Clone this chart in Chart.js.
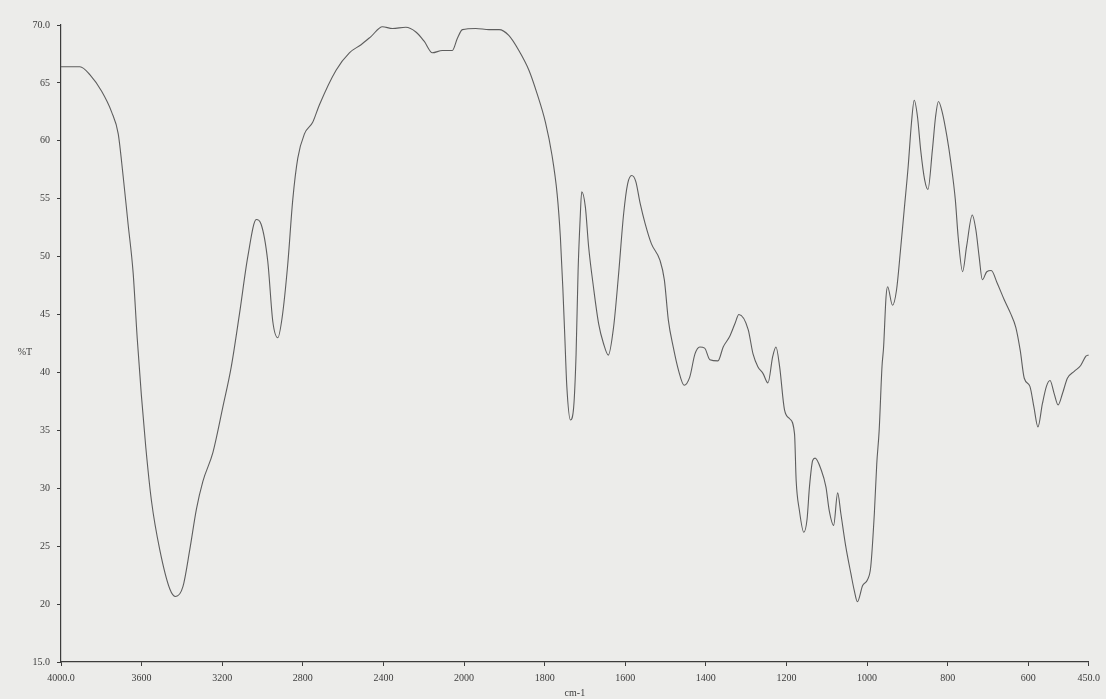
<!DOCTYPE html>
<html>
<head>
<meta charset="utf-8">
<style>
  html, body { margin: 0; padding: 0; background: #ececea; }
  #wrap { width: 1106px; height: 699px; position: relative; }
</style>
<script src="https://cdn.jsdelivr.net/npm/chart.js@4.4.1/dist/chart.umd.min.js"></script>
</head>
<body>
<div id="wrap"><canvas id="ir" width="1106" height="699"></canvas></div>
<script>
// IR spectrum, %T against wavenumber (cm-1); scale doubles below 2000
const wavenumbers = [
  4000, 3906, 3856, 3799, 3749, 3716, 3692, 3667, 3642, 3622, 3601, 3579, 3551, 3510, 3460, 3431,
  3395, 3361, 3328, 3296, 3246, 3197, 3155, 3114, 3073, 3031, 3007, 2974, 2949, 2924, 2903, 2875,
  2850, 2825, 2792, 2751, 2718, 2635, 2569, 2511, 2462, 2405, 2355, 2289, 2239, 2198, 2157, 2108,
  2058, 2033, 2008, 1971, 1938, 1913, 1889, 1864, 1839, 1819, 1798, 1782, 1769, 1761, 1755, 1750,
  1745, 1736, 1728, 1722, 1717, 1712, 1708, 1699, 1691, 1679, 1666, 1654, 1642, 1629, 1617, 1604,
  1594, 1584, 1574, 1563, 1551, 1535, 1514, 1503, 1493, 1481, 1468, 1454, 1440, 1427, 1415, 1403,
  1390, 1370, 1357, 1341, 1328, 1318, 1295, 1283, 1271, 1258, 1246, 1234, 1226, 1217, 1205, 1192,
  1180, 1176, 1168, 1157, 1149, 1143, 1135, 1129, 1114, 1102, 1094, 1083, 1073, 1065, 1053, 1040,
  1032, 1024, 1011, 999, 991, 982, 976, 970, 963, 959, 953, 949, 937, 927, 917, 908,
  898, 890, 883, 875, 867, 857, 849, 838, 830, 823, 813, 802, 792, 781, 774, 763,
  753, 739, 730, 722, 714, 703, 692, 677, 660, 644, 631, 620, 610, 596, 586, 576,
  565, 555, 546, 536, 526, 515, 503, 486, 470, 457, 450
];
const transmittance = [
  66.4, 66.4, 65.7, 64.3, 62.5, 60.6, 57.0, 52.8, 48.6, 43.0, 38.0, 33.5, 28.9, 24.7, 21.3, 20.65,
  21.5, 24.7, 28.2, 30.6, 33.1, 37.0, 40.5, 45.1, 50.0, 53.2, 52.8, 49.6, 44.4, 43.0, 44.7, 49.3,
  54.9, 58.5, 60.6, 61.6, 63.1, 66.1, 67.6, 68.3, 69.0, 69.85, 69.7, 69.8, 69.4, 68.6, 67.6, 67.8,
  67.8, 68.85, 69.6, 69.7, 69.6, 69.6, 69.1, 67.8, 66.1, 64.1, 61.6, 58.8, 55.4, 51.7, 47.4, 43.1,
  38.8, 35.9, 37.0, 41.6, 48.8, 53.2, 55.6, 54.3, 50.9, 47.4, 44.2, 42.5, 41.5, 43.9, 48.3, 53.7,
  56.3, 57.0, 56.5, 54.6, 52.9, 51.1, 49.7, 48.0, 44.5, 42.2, 40.2, 38.9, 39.6, 41.6, 42.2, 42.1,
  41.1, 41.0, 42.2, 43.1, 44.2, 45.0, 43.7, 41.6, 40.5, 39.9, 39.1, 41.4, 42.2, 40.5, 36.8, 36.0,
  34.7, 30.7, 28.1, 26.2, 27.3, 30.1, 32.4, 32.6, 31.6, 30.1, 28.1, 26.8, 29.6, 27.8, 25.0, 22.6,
  21.2, 20.2, 21.6, 22.1, 23.2, 27.8, 32.1, 35.0, 40.5, 42.2, 46.5, 47.4, 45.8, 47.1, 50.6, 54.0,
  57.8, 61.5, 63.5, 62.1, 59.2, 56.6, 55.8, 59.2, 62.1, 63.4, 62.4, 60.4, 58.1, 54.9, 51.7, 48.7,
  50.9, 53.6, 52.3, 50.0, 48.0, 48.7, 48.8, 47.7, 46.3, 45.1, 43.9, 41.9, 39.5, 38.8, 37.0, 35.3,
  37.3, 38.8, 39.3, 38.2, 37.2, 38.2, 39.5, 40.1, 40.6, 41.4, 41.5
];
const xTicks = [4000, 3600, 3200, 2800, 2400, 2000, 1800, 1600, 1400, 1200, 1000, 800, 600, 450];
const yTicks = [15, 20, 25, 30, 35, 40, 45, 50, 55, 60, 65, 70];
const xBreak = 2000;

// linear scale with the usual 2x expansion below 2000 cm-1, high wavenumber on the left
class SplitWaveScale extends Chart.LinearScale {
  _units(v) {
    const hi = this.max, br = xBreak;
    return v >= br ? (hi - v) / 2 : (hi - br) / 2 + (br - v);
  }
  getPixelForValue(v) {
    const total = this._units(this.min);
    return this.left + this.width * this._units(v) / total;
  }
  getValueForPixel(p) {
    const total = this._units(this.min);
    const u = (p - this.left) / this.width * total;
    const half = (this.max - xBreak) / 2;
    return u <= half ? this.max - u * 2 : xBreak - (u - half);
  }
  buildTicks() {
    return xTicks.map(v => ({ value: v }));
  }
}
SplitWaveScale.id = 'splitwave';
SplitWaveScale.defaults = Chart.LinearScale.defaults;
Chart.register(SplitWaveScale);

const inkColor = '#3c3c3c';
const labelFont = { family: "'Liberation Serif', 'DejaVu Serif', serif", size: 10 };

const percentT = {
  id: 'percentT',
  afterDraw(chart) {
    const ctx = chart.ctx;
    ctx.save();
    ctx.font = "10px 'Liberation Serif', serif";
    ctx.fillStyle = inkColor;
    ctx.textAlign = 'center';
    ctx.textBaseline = 'middle';
    ctx.fillText('%T', 25, 352);
    ctx.restore();
  }
};

new Chart(document.getElementById('ir'), {
  type: 'line',
  data: {
    datasets: [{
      data: wavenumbers.map((w, i) => ({ x: w, y: transmittance[i] })),
      borderColor: '#5e5e5e',
      borderWidth: 1.1,
      pointRadius: 0,
      cubicInterpolationMode: 'monotone',
      fill: false
    }]
  },
  options: {
    responsive: false,
    animation: false,
    devicePixelRatio: 1,
    layout: { padding: { top: 25, right: 14, left: 0, bottom: 0 } },
    plugins: { legend: { display: false }, tooltip: { enabled: false } },
    scales: {
      x: {
        type: 'splitwave',
        min: 450,
        max: 4000,
        afterFit: s => { s.height = 37; },
        grid: { drawOnChartArea: false, drawTicks: true, tickLength: 4, color: inkColor },
        border: { display: true, color: inkColor, width: 1.2 },
        ticks: {
          autoSkip: false,
          maxRotation: 0,
          padding: 6,
          color: inkColor,
          font: labelFont,
          callback: v => (v === 4000 || v === 450) ? v.toFixed(1) : String(v)
        },
        title: { display: true, text: 'cm-1', color: inkColor, font: labelFont, padding: { top: 0, bottom: 0 } }
      },
      y: {
        min: 15,
        max: 70,
        afterFit: s => { s.width = 61; },
        afterBuildTicks: s => { s.ticks = yTicks.map(v => ({ value: v })); },
        grid: { drawOnChartArea: false, drawTicks: true, tickLength: 4, color: inkColor },
        border: { display: true, color: inkColor, width: 1.2 },
        ticks: {
          autoSkip: false,
          padding: 7,
          color: inkColor,
          font: labelFont,
          callback: v => (v === 15 || v === 70) ? v.toFixed(1) : String(v)
        }
      }
    }
  },
  plugins: [percentT]
});
</script>
</body>
</html>
